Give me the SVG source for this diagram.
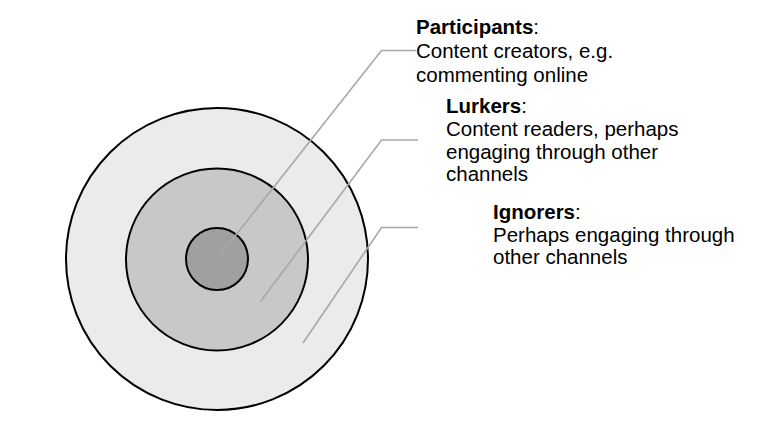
<svg xmlns="http://www.w3.org/2000/svg" width="768" height="430" viewBox="0 0 768 430">
<style>
.ring{stroke:#000;stroke-width:2}
.lead{fill:none;stroke:#a8a8a8;stroke-width:1.6}
text{font-family:"Liberation Sans",Arial,sans-serif;font-size:20.5px;fill:#000}
.b{font-weight:bold}
</style>
<rect width="768" height="430" fill="#fff"/>
<g id="ignorers-ring"><circle class="ring" cx="217" cy="259" r="151" fill="#ebebeb"/></g>
<g id="lurkers-ring"><circle class="ring" cx="217" cy="259.5" r="91" fill="#c8c8c8"/></g>
<g id="participants-ring"><circle class="ring" cx="217" cy="259" r="31" fill="#a0a0a0"/></g>
<g id="connectors">
<polyline class="lead" points="217,259 381.5,50.5 416,50.5"/>
<polyline class="lead" points="260.5,301.5 381.5,140 418,140"/>
<polyline class="lead" points="303,343 381.5,227.5 418,227.5"/>
</g>
<g id="participants-label">
<text x="416" y="34"><tspan class="b">Participants</tspan>:</text>
<text x="416" y="58">Content creators, e.g.</text>
<text x="416" y="81.5">commenting online</text>
</g>
<g id="lurkers-label">
<text x="446" y="112.5"><tspan class="b">Lurkers</tspan>:</text>
<text x="446" y="135.5">Content readers, perhaps</text>
<text x="446" y="158.5">engaging through other</text>
<text x="446" y="181">channels</text>
</g>
<g id="ignorers-label">
<text x="493" y="218.5"><tspan class="b">Ignorers</tspan>:</text>
<text x="493" y="241.5">Perhaps engaging through</text>
<text x="493" y="264">other channels</text>
</g>
</svg>
